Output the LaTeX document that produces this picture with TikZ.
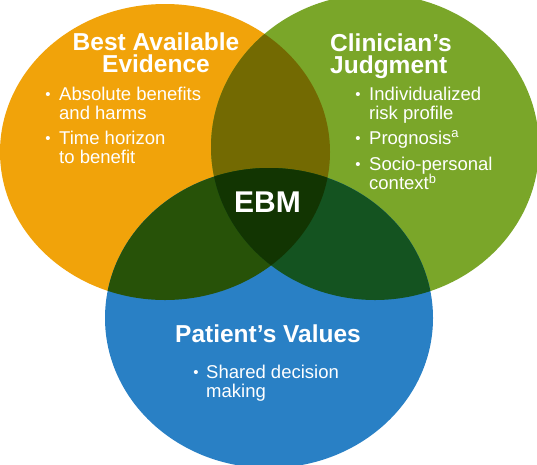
\documentclass[tikz,border=0pt]{standalone}
\usepackage{fontspec}
\setmainfont{Liberation Sans}
\definecolor{cO}{RGB}{241,163,10}
\definecolor{cG}{RGB}{122,166,41}
\definecolor{cB}{RGB}{41,128,197}
\definecolor{cOG}{RGB}{115,106,2}
\definecolor{cOB}{RGB}{39,82,8}
\definecolor{cGB}{RGB}{20,83,32}
\definecolor{cOGB}{RGB}{18,53,2}
\begin{document}
\begin{tikzpicture}[x=1pt,y=-1pt,
  title/.style={inner sep=0pt,text=white,font=\fontsize{24.5}{22.5}\selectfont\bfseries},
  bul/.style={inner sep=0pt,text=white,font=\fontsize{18.5}{19.5}\selectfont},
  dot/.style={inner sep=0pt,text=white,font=\fontsize{15}{15}\selectfont},
  core/.style={inner sep=0pt,text=white,font=\fontsize{30}{30}\selectfont\bfseries}]
\clip (0,0) rectangle (537,464);
\fill[white] (0,0) rectangle (537,464);
% circles
\fill[cO] (165,152) ellipse [x radius=165pt, y radius=148pt];
\fill[cG] (375,147) ellipse [x radius=164pt, y radius=153pt];
\fill[cB] (269,318) ellipse [x radius=164pt, y radius=150pt];
% overlaps
\begin{scope}
  \clip (165,152) ellipse [x radius=165pt, y radius=148pt];
  \fill[cOG] (375,147) ellipse [x radius=164pt, y radius=153pt];
  \fill[cOB] (269,318) ellipse [x radius=164pt, y radius=150pt];
\end{scope}
\begin{scope}
  \clip (375,147) ellipse [x radius=164pt, y radius=153pt];
  \fill[cGB] (269,318) ellipse [x radius=164pt, y radius=150pt];
\end{scope}
\begin{scope}
  \clip (165,152) ellipse [x radius=165pt, y radius=148pt];
  \clip (375,147) ellipse [x radius=164pt, y radius=153pt];
  \fill[cOGB] (269,318) ellipse [x radius=164pt, y radius=150pt];
\end{scope}
% Best Available Evidence (base anchor = last line)
\node[title,anchor=base,align=center] (ta) at (156,72.8) {Best Available\\Evidence};
\node[dot,anchor=base] (ba1) at (48,99) {•};
\node[bul,anchor=base west,align=left] (la1) at (59,119.5) {Absolute benefits\\and harms};
\node[dot,anchor=base] (ba2) at (48,143) {•};
\node[bul,anchor=base west,align=left] (la2) at (59,163.5) {Time horizon\\to benefit};
% Clinician's Judgment
\node[title,anchor=base west,align=left] (tg) at (330,73.5) {Clinician’s\\Judgment};
\node[dot,anchor=base] (bg1) at (358,99) {•};
\node[bul,anchor=base west,align=left] (lg1) at (369,119.5) {Individualized\\risk profile};
\node[dot,anchor=base] (bg2) at (358,143) {•};
\node[bul,anchor=base west] (lg2) at (369,144) {Prognosis\textsuperscript{a}};
\node[dot,anchor=base] (bg3) at (358,169) {•};
\node[bul,anchor=base west,align=left] (lg3) at (369,189.5) {Socio-personal\\context\textsuperscript{b}};
% Patient's Values
\node[title,anchor=base] (tb) at (268,342) {Patient’s Values};
\node[dot,anchor=base] (bb1) at (196,377) {•};
\node[bul,anchor=base west,align=left] (lb1) at (206,397.5) {Shared decision\\making};
% centre
\node[core,anchor=base] (ebm) at (267.5,212) {EBM};
\end{tikzpicture}
\end{document}
